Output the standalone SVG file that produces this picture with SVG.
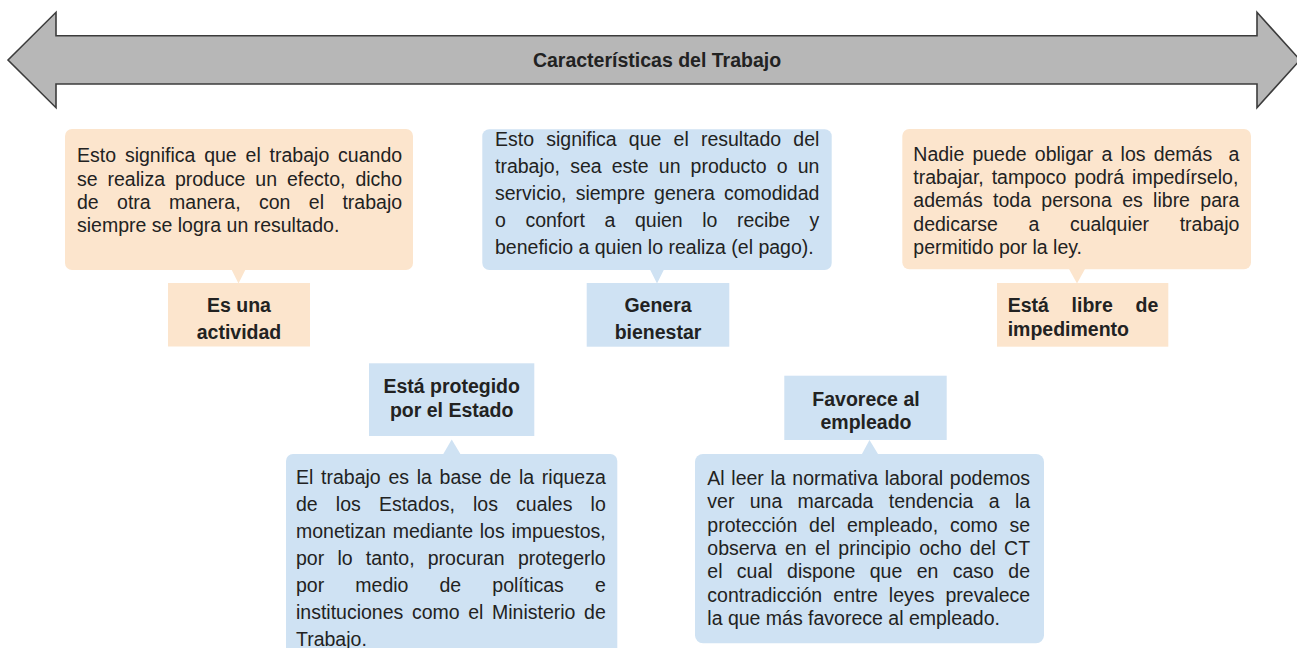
<svg xmlns="http://www.w3.org/2000/svg" width="1297" height="648" viewBox="0 0 1297 648">
<style>
.body{font-family:"Liberation Sans",Arial,sans-serif;font-size:19.5px;fill:#222}
.bold{font-family:"Liberation Sans",Arial,sans-serif;font-size:19.5px;font-weight:bold;fill:#222}
.orange{fill:#fce5cd}
.blue{fill:#cfe2f3}
.mid{text-anchor:middle}
</style>
<rect width="1297" height="648" fill="#ffffff"/>
<g id="titulo">
<path d="M8,60 L56,12.3 L56,35.7 L1257,35.7 L1257,12.3 L1300,60 L1257,107.7 L1257,84 L56,84 L56,107.7 Z" fill="#b7b7b7" stroke="#3c3c3c" stroke-width="1.6" stroke-linejoin="miter"/>
<text class="bold mid" x="657" y="66.7">Características del Trabajo</text>
</g>
<g id="connectors">
<polygon class="orange" points="231.5,269.5 245.5,269.5 238.5,283.5"/>
<polygon class="blue" points="650,269.5 664,269.5 657,283.5"/>
<polygon class="orange" points="1069,269 1085,269 1077,283.5"/>
<polygon class="blue" points="443,454.5 460.7,454.5 451.7,439.5"/>
<polygon class="blue" points="861.7,454.5 878.3,454.5 869.5,440"/>
</g>
<g id="desc-actividad">
<rect class="orange" x="65" y="129" width="348" height="141" rx="7"/>
<text class="body" x="77" y="162.3" word-spacing="3.44">Esto significa que el trabajo cuando</text>
<text class="body" x="77" y="185.6" word-spacing="4.52">se realiza produce un efecto, dicho</text>
<text class="body" x="77" y="209" word-spacing="12.98">de otra manera, con el trabajo</text>
<text class="body" x="77" y="232.3">siempre se logra un resultado.</text>
</g>
<g id="es-una-actividad">
<rect class="orange" x="168" y="283" width="142" height="63.5"/>
<text class="bold mid" x="239" y="312.3">Es una</text>
<text class="bold mid" x="239" y="339">actividad</text>
</g>
<g id="desc-bienestar">
<rect class="blue" x="482.3" y="129.3" width="349.4" height="140.7" rx="7"/>
<text class="body" x="495" y="146" word-spacing="6.77">Esto significa que el resultado del</text>
<text class="body" x="495" y="173" word-spacing="4.73">trabajo, sea este un producto o un</text>
<text class="body" x="495" y="200" word-spacing="3.7">servicio, siempre genera comodidad</text>
<text class="body" x="495" y="226.8" word-spacing="14.13">o confort a quien lo recibe y</text>
<text class="body" x="495" y="253.5">beneficio a quien lo realiza (el pago).</text>
</g>
<g id="genera-bienestar">
<rect class="blue" x="586.7" y="283" width="142.6" height="63.7"/>
<text class="bold mid" x="658" y="312.3">Genera</text>
<text class="bold mid" x="658" y="339">bienestar</text>
</g>
<g id="desc-libre">
<rect class="orange" x="902.3" y="129" width="348.7" height="140.3" rx="7"/>
<text class="body" x="913.3" y="160.6" word-spacing="2.76" xml:space="preserve">Nadie puede obligar a los demás  a</text>
<text class="body" x="913.3" y="184" word-spacing="2.47">trabajar, tampoco podrá impedírselo,</text>
<text class="body" x="913.3" y="207.3" word-spacing="4.94">además toda persona es libre para</text>
<text class="body" x="913.3" y="230.6" word-spacing="25.2">dedicarse a cualquier trabajo</text>
<text class="body" x="913.3" y="254">permitido por la ley.</text>
</g>
<g id="libre-impedimento">
<rect class="orange" x="997" y="283" width="171.3" height="63.7"/>
<text class="bold" x="1007.7" y="312.3" word-spacing="17.3">Está libre de</text>
<text class="bold" x="1007.7" y="336">impedimento</text>
</g>
<g id="protegido-estado">
<rect class="blue" x="369" y="363.3" width="165.3" height="72.7"/>
<text class="bold mid" x="451.7" y="393.3">Está protegido</text>
<text class="bold mid" x="451.7" y="417.3">por el Estado</text>
</g>
<g id="desc-protegido">
<rect class="blue" x="286" y="454" width="331.3" height="215" rx="7"/>
<text class="body" x="296" y="483.5" word-spacing="2.29">El trabajo es la base de la riqueza</text>
<text class="body" x="296" y="510.5" word-spacing="12.74">de los Estados, los cuales lo</text>
<text class="body" x="296" y="537.5" word-spacing="1.37">monetizan mediante los impuestos,</text>
<text class="body" x="296" y="564.5" word-spacing="7.78">por lo tanto, procuran protegerlo</text>
<text class="body" x="296" y="591.5" word-spacing="25.7">por medio de políticas e</text>
<text class="body" x="296" y="618.5" word-spacing="3.2">instituciones como el Ministerio de</text>
<text class="body" x="296" y="645.5">Trabajo.</text>
</g>
<g id="favorece-empleado">
<rect class="blue" x="784.3" y="375.7" width="162.4" height="64.3"/>
<text class="bold mid" x="866" y="406">Favorece al</text>
<text class="bold mid" x="866" y="429">empleado</text>
</g>
<g id="desc-favorece">
<rect class="blue" x="695" y="454" width="349" height="189.3" rx="8"/>
<text class="body" x="707.3" y="485" word-spacing="1.26">Al leer la normativa laboral podemos</text>
<text class="body" x="707.3" y="508.3" word-spacing="9.92">ver una marcada tendencia a la</text>
<text class="body" x="707.3" y="531.7" word-spacing="6.43">protección del empleado, como se</text>
<text class="body" x="707.3" y="555" word-spacing="2.85">observa en el principio ocho del CT</text>
<text class="body" x="707.3" y="578.3" word-spacing="8.98">el cual dispone que en caso de</text>
<text class="body" x="707.3" y="601.7" word-spacing="5.7">contradicción entre leyes prevalece</text>
<text class="body" x="707.3" y="625">la que más favorece al empleado.</text>
</g>
</svg>
